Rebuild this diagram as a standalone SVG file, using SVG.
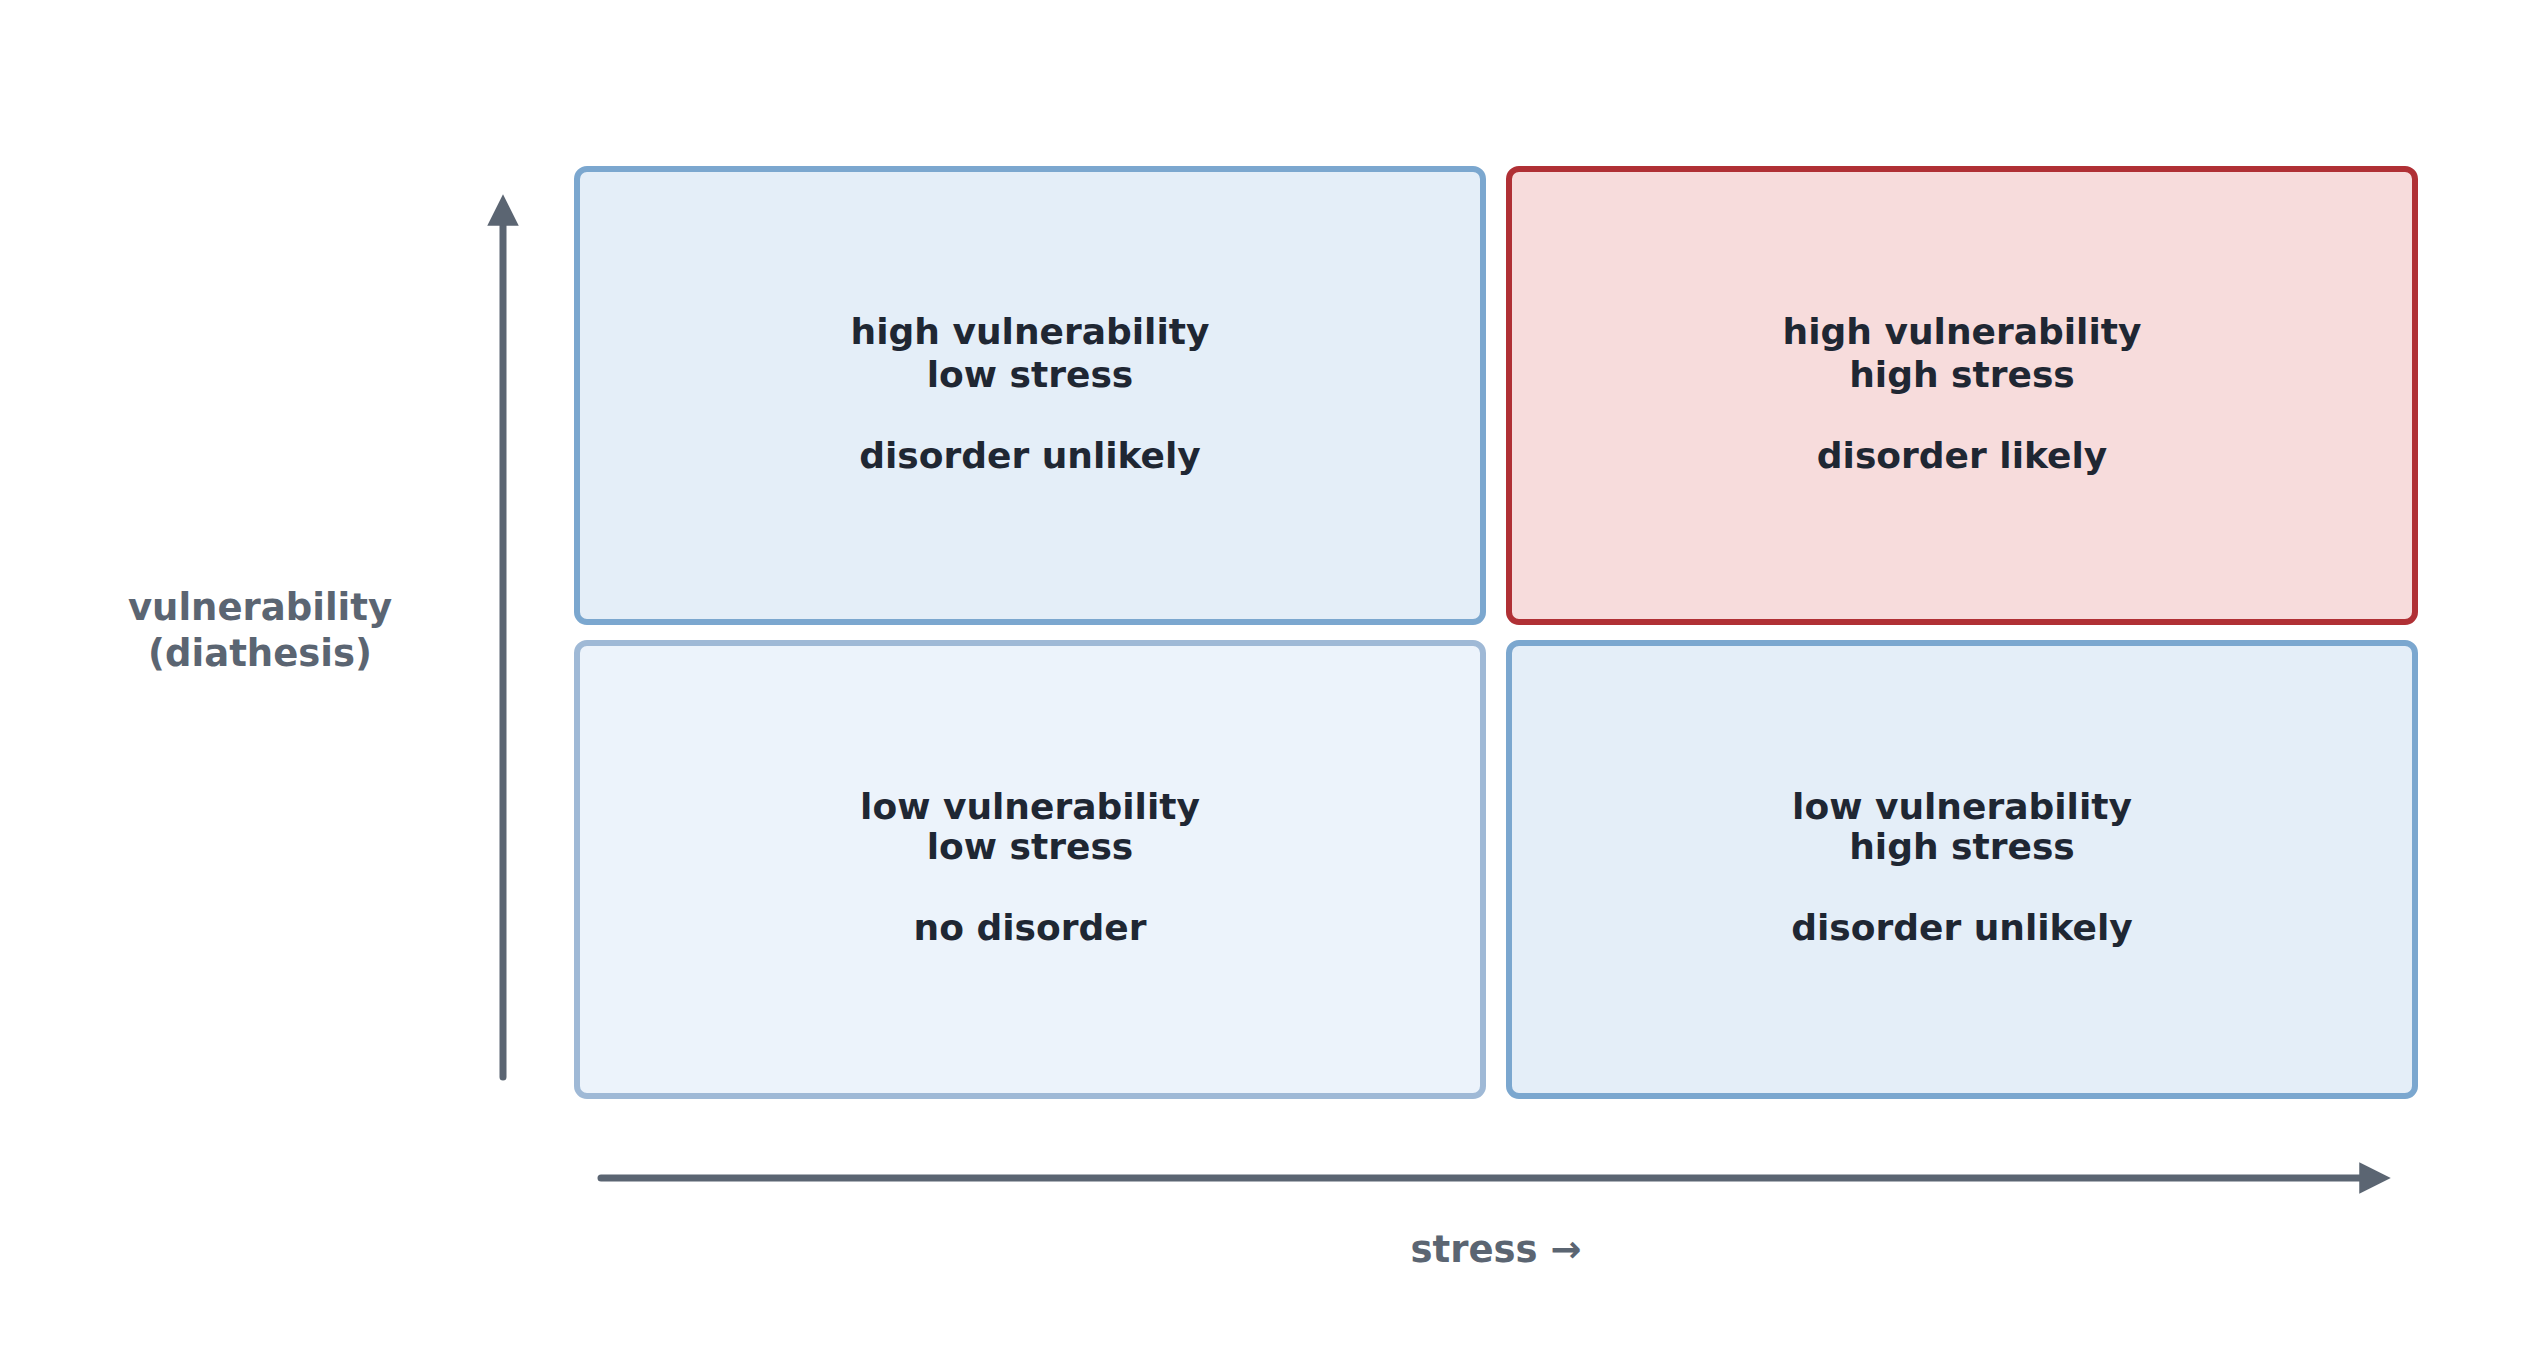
<svg xmlns="http://www.w3.org/2000/svg" width="2534" height="1353" viewBox="0 0 2534 1353">
<style>
.box{stroke-width:6}
.t{font-family:"DejaVu Sans",sans-serif;font-weight:bold;font-size:36px;fill:#1f2733;text-anchor:middle}
.ax{font-family:"DejaVu Sans",sans-serif;font-weight:bold;font-size:37px;fill:#5b6572;text-anchor:middle}
.axis{stroke:#5b6572;stroke-width:7;stroke-linecap:round;fill:none}
</style>
<defs>
<marker id="ah" viewBox="0 0 10 10" refX="5" refY="5" markerWidth="4.5" markerHeight="4.5" orient="auto" markerUnits="strokeWidth">
<path d="M0,0 L10,5 L0,10 Z" fill="#5b6572"/>
</marker>
</defs>
<rect width="2534" height="1353" fill="#fff"/>
<g id="q-hv-ls">
<rect class="box" x="577" y="169" width="906" height="453" rx="10" fill="#e4eef8" stroke="#7ba7cf"/>
<text class="t" x="1030" y="344">high vulnerability</text>
<text class="t" x="1030" y="387">low stress</text>
<text class="t" x="1030" y="468">disorder unlikely</text>
</g>
<g id="q-hv-hs">
<rect class="box" x="1509" y="169" width="906" height="453" rx="10" fill="#f7dcdc" stroke="#b03035"/>
<text class="t" x="1962" y="344">high vulnerability</text>
<text class="t" x="1962" y="387">high stress</text>
<text class="t" x="1962" y="468">disorder likely</text>
</g>
<g id="q-lv-ls">
<rect class="box" x="577" y="643" width="906" height="453" rx="10" fill="#ecf3fb" stroke="#9fb9d6"/>
<text class="t" x="1030" y="819">low vulnerability</text>
<text class="t" x="1030" y="859">low stress</text>
<text class="t" x="1030" y="940">no disorder</text>
</g>
<g id="q-lv-hs">
<rect class="box" x="1509" y="643" width="906" height="453" rx="10" fill="#e4eef8" stroke="#7ba7cf"/>
<text class="t" x="1962" y="819">low vulnerability</text>
<text class="t" x="1962" y="859">high stress</text>
<text class="t" x="1962" y="940">disorder unlikely</text>
</g>
<g id="connectors">
<line class="axis" x1="503" y1="1077" x2="503" y2="210" marker-end="url(#ah)"/>
<line class="axis" x1="601" y1="1178" x2="2375" y2="1178" marker-end="url(#ah)"/>
</g>
<g id="labels">
<text class="ax" x="260" y="620">vulnerability</text>
<text class="ax" x="260" y="666">(diathesis)</text>
<text class="ax" x="1496" y="1262">stress  →</text>
</g>
</svg>
